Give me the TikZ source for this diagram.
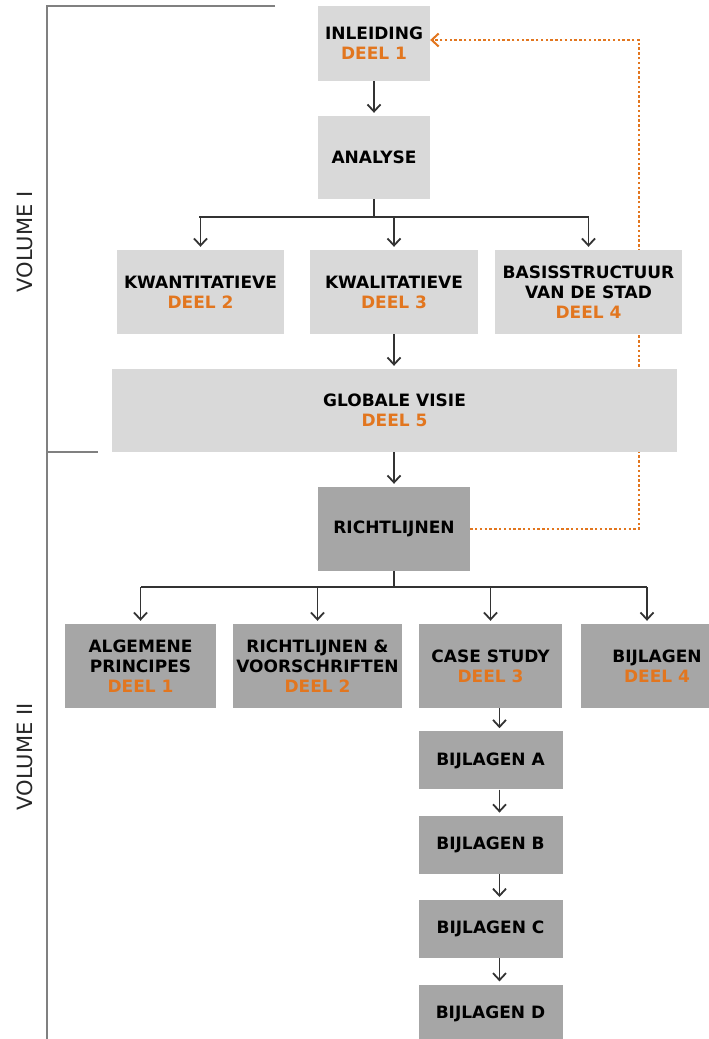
\documentclass[tikz,border=0pt]{standalone}
\usepackage{fontspec}
\setmainfont{DejaVu Sans}
\usepackage{xcolor}
\usepackage{tikz}
\usetikzlibrary{arrows.meta,positioning}
\definecolor{lightbox}{HTML}{D9D9D9}
\definecolor{darkbox}{HTML}{A6A6A6}
\definecolor{deelcol}{HTML}{E2761F}
\definecolor{linecol}{HTML}{333333}
\definecolor{volcol}{HTML}{808080}
\newcommand{\deel}[1]{\textcolor{deelcol}{DEEL #1}}
\pgfdeclarelayer{bg}
\pgfsetlayers{bg,main}

\begin{document}
\begin{tikzpicture}[x=1pt,y=-1pt,
  font=\bfseries\fontsize{17}{20}\selectfont,
  bx/.style={inner sep=0pt,align=center,minimum height=84pt},
  lt/.style={bx,fill=lightbox},
  dk/.style={bx,fill=darkbox},
  ln/.style={line width=1.8pt,linecol},
  ar/.style={ln,-{Straight Barb[length=7pt,width=13pt]},shorten >=3pt},
  fb/.style={deelcol,line width=2.4pt,dash pattern=on 2.4pt off 2.4pt,
             -{Straight Barb[length=7pt,width=13pt,line width=2pt]}},
  vl/.style={line width=1.8pt,volcol},
  vol/.style={rotate=90,font=\fontsize{21}{24}\selectfont,text=black!85},
]
\clip (0,0) rectangle (709,1039);

% volume brackets
\draw[vl] (275,6) -- (47,6) -- (47,1045);
\draw[vl] (47,452) -- (98,452);
\node[vol] (v1) at (25,242) {VOLUME I};
\node[vol] (v2) at (25,757) {VOLUME II};

% volume I
\node[lt,minimum width=112pt,minimum height=75pt] (inl) at (374,43.5) {INLEIDING\\\deel{1}};
\node[lt,minimum width=112pt,minimum height=83pt] (ana) at (374,157.5) {ANALYSE};
\node[lt,minimum width=167pt] (kwan) at (200.5,292) {KWANTITATIEVE\\\deel{2}};
\node[lt,minimum width=168pt] (kwal) at (394,292) {KWALITATIEVE\\\deel{3}};
\node[lt,minimum width=187pt] (basis) at (588.5,292) {BASISSTRUCTUUR\\VAN DE STAD\\\deel{4}};
\node[lt,minimum width=565pt,minimum height=83pt] (glob) at (394.5,410.5) {GLOBALE VISIE\\\deel{5}};

% volume II
\node[dk,minimum width=152pt] (richt) at (394,529) {RICHTLIJNEN};
\node[dk,minimum width=151pt] (alg) at (140.5,666) {ALGEMENE\\PRINCIPES\\\deel{1}};
\node[dk,minimum width=169pt] (rv) at (317.5,666) {RICHTLIJNEN \&\\VOORSCHRIFTEN\\\deel{2}};
\node[dk,minimum width=143pt] (case) at (490.5,666) {CASE STUDY\\\deel{3}};
\node[dk,minimum width=152pt] (bijl) at (657,666) {BIJLAGEN\\\deel{4}};
\node[dk,minimum width=144pt,minimum height=58pt,below=23pt of case] (ba) {BIJLAGEN A};
\node[dk,minimum width=144pt,minimum height=58pt,below=26pt of ba] (bb) {BIJLAGEN B};
\node[dk,minimum width=144pt,minimum height=58pt,below=26pt of bb] (bc) {BIJLAGEN C};
\node[dk,minimum width=144pt,minimum height=58pt,below=26pt of bc] (bd) {BIJLAGEN D};

% connectors
\coordinate (v1l) at (199,217);
\coordinate (v1r) at (589,217);
\coordinate (v2l) at (141,587);
\coordinate (v2r) at (647,587);
\draw[ar] (inl) -- (ana);
\draw[ln] (ana.south) -- (ana.south |- v1l);
\draw[ln] (v1l) -- (v1r);
\foreach \b in {kwan,kwal,basis}
  \draw[ar] (\b.north |- v1l) -- (\b.north);
\draw[ar] (kwal.south) -- (kwal.south |- glob.north);
\draw[ar] (glob.south -| richt) -- (richt.north);
\draw[ln] (richt.south) -- (richt.south |- v2l);
\draw[ln] (v2l) -- (v2r);
\foreach \b in {alg,rv,case}
  \draw[ar] (\b.north |- v2l) -- (\b.north);
\draw[ar] (v2r) -- (v2r |- bijl.north);
\foreach \a/\b in {case/ba,ba/bb,bb/bc,bc/bd}
  \draw[ar] ([xshift=9pt]\a.south) -- ([xshift=9pt]\b.north);

% feedback, behind the boxes
\coordinate (terug) at (639,40);
\begin{pgfonlayer}{bg}
\draw[fb] (richt.east) -| (terug) -- (terug -| inl.east);
\end{pgfonlayer}
\end{tikzpicture}
\end{document}
